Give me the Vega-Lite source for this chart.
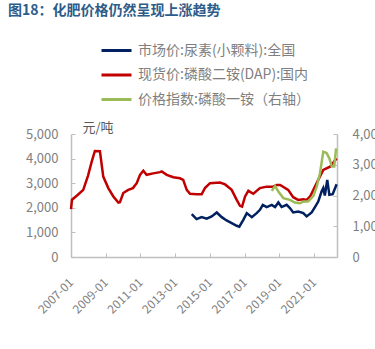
{
  "$schema": "https://vega.github.io/schema/vega-lite/v6.json",
  "width": 266,
  "height": 123,
  "autosize": {"type": "none"},
  "padding": {"left": 71, "top": 134, "right": 38, "bottom": 92},
  "background": "white",
  "title": {"text": "图18：化肥价格仍然呈现上涨趋势", "anchor": "start", "frame": "group", "fontSize": 14, "fontWeight": "bold", "color": "#2E5C8A", "font": "Noto Sans CJK SC", "dx": -63, "dy": -16, "offset": 0},
  "config": {"view": {"stroke": null}, "font": "Noto Sans CJK SC"},
  "data": {"values": [
    {"date": "2007-01-01", "series": "现货价:磷酸二铵(DAP):国内", "value": 1950},
    {"date": "2007-01-22", "series": "现货价:磷酸二铵(DAP):国内", "value": 2330},
    {"date": "2007-05-08", "series": "现货价:磷酸二铵(DAP):国内", "value": 2500},
    {"date": "2007-09-16", "series": "现货价:磷酸二铵(DAP):国内", "value": 2730},
    {"date": "2007-12-24", "series": "现货价:磷酸二铵(DAP):国内", "value": 3300},
    {"date": "2008-03-15", "series": "现货价:磷酸二铵(DAP):国内", "value": 3900},
    {"date": "2008-05-18", "series": "现货价:磷酸二铵(DAP):国内", "value": 4310},
    {"date": "2008-09-01", "series": "现货价:磷酸二铵(DAP):国内", "value": 4300},
    {"date": "2008-11-10", "series": "现货价:磷酸二铵(DAP):国内", "value": 3270},
    {"date": "2009-02-24", "series": "现货价:磷酸二铵(DAP):国内", "value": 2800},
    {"date": "2009-06-10", "series": "现货价:磷酸二铵(DAP):国内", "value": 2460},
    {"date": "2009-09-24", "series": "现货价:磷酸二铵(DAP):国内", "value": 2215},
    {"date": "2009-10-27", "series": "现货价:磷酸二铵(DAP):国内", "value": 2230},
    {"date": "2010-01-05", "series": "现货价:磷酸二铵(DAP):国内", "value": 2600},
    {"date": "2010-04-20", "series": "现货价:磷酸二铵(DAP):国内", "value": 2730},
    {"date": "2010-07-27", "series": "现货价:磷酸二铵(DAP):国内", "value": 2800},
    {"date": "2010-10-15", "series": "现货价:磷酸二铵(DAP):国内", "value": 3000},
    {"date": "2010-12-24", "series": "现货价:磷酸二铵(DAP):国内", "value": 3340},
    {"date": "2011-03-03", "series": "现货价:磷酸二铵(DAP):国内", "value": 3510},
    {"date": "2011-05-12", "series": "现货价:磷酸二铵(DAP):国内", "value": 3340},
    {"date": "2011-09-27", "series": "现货价:磷酸二铵(DAP):国内", "value": 3400},
    {"date": "2012-02-17", "series": "现货价:磷酸二铵(DAP):国内", "value": 3450},
    {"date": "2012-03-25", "series": "现货价:磷酸二铵(DAP):国内", "value": 3480},
    {"date": "2012-07-08", "series": "现货价:磷酸二铵(DAP):国内", "value": 3340},
    {"date": "2012-11-24", "series": "现货价:磷酸二铵(DAP):国内", "value": 3240},
    {"date": "2013-04-12", "series": "现货价:磷酸二铵(DAP):国内", "value": 3200},
    {"date": "2013-06-20", "series": "现货价:磷酸二铵(DAP):国内", "value": 3135},
    {"date": "2013-09-02", "series": "现货价:磷酸二铵(DAP):国内", "value": 2730},
    {"date": "2013-11-10", "series": "现货价:磷酸二铵(DAP):国内", "value": 2570},
    {"date": "2014-03-28", "series": "现货价:磷酸二铵(DAP):国内", "value": 2550},
    {"date": "2014-07-13", "series": "现货价:磷酸二铵(DAP):国内", "value": 2550},
    {"date": "2014-09-20", "series": "现货价:磷酸二铵(DAP):国内", "value": 2800},
    {"date": "2015-01-05", "series": "现货价:磷酸二铵(DAP):国内", "value": 3000},
    {"date": "2015-08-04", "series": "现货价:磷酸二铵(DAP):国内", "value": 3025},
    {"date": "2015-11-18", "series": "现货价:磷酸二铵(DAP):国内", "value": 2950},
    {"date": "2016-04-05", "series": "现货价:磷酸二铵(DAP):国内", "value": 2730},
    {"date": "2016-07-20", "series": "现货价:磷酸二铵(DAP):国内", "value": 2320},
    {"date": "2016-09-27", "series": "现货价:磷酸二铵(DAP):国内", "value": 2080},
    {"date": "2016-11-10", "series": "现货价:磷酸二铵(DAP):国内", "value": 2050},
    {"date": "2017-01-12", "series": "现货价:磷酸二铵(DAP):国内", "value": 2460},
    {"date": "2017-03-22", "series": "现货价:磷酸二铵(DAP):国内", "value": 2690},
    {"date": "2017-07-05", "series": "现货价:磷酸二铵(DAP):国内", "value": 2570},
    {"date": "2017-11-21", "series": "现货价:磷酸二铵(DAP):国内", "value": 2800},
    {"date": "2018-04-12", "series": "现货价:磷酸二铵(DAP):国内", "value": 2860},
    {"date": "2018-08-22", "series": "现货价:磷酸二铵(DAP):国内", "value": 2860},
    {"date": "2018-11-10", "series": "现货价:磷酸二铵(DAP):国内", "value": 2930},
    {"date": "2019-01-20", "series": "现货价:磷酸二铵(DAP):国内", "value": 2930},
    {"date": "2019-07-08", "series": "现货价:磷酸二铵(DAP):国内", "value": 2730},
    {"date": "2019-10-22", "series": "现货价:磷酸二铵(DAP):国内", "value": 2430},
    {"date": "2020-02-06", "series": "现货价:磷酸二铵(DAP):国内", "value": 2320},
    {"date": "2020-05-22", "series": "现货价:磷酸二铵(DAP):国内", "value": 2350},
    {"date": "2020-07-31", "series": "现货价:磷酸二铵(DAP):国内", "value": 2320},
    {"date": "2020-10-12", "series": "现货价:磷酸二铵(DAP):国内", "value": 2460},
    {"date": "2021-01-22", "series": "现货价:磷酸二铵(DAP):国内", "value": 2860},
    {"date": "2021-04-01", "series": "现货价:磷酸二铵(DAP):国内", "value": 3135},
    {"date": "2021-07-16", "series": "现货价:磷酸二铵(DAP):国内", "value": 3540},
    {"date": "2021-12-06", "series": "现货价:磷酸二铵(DAP):国内", "value": 3670},
    {"date": "2022-04-23", "series": "现货价:磷酸二铵(DAP):国内", "value": 4010},
    {"date": "2013-12-16", "series": "市场价:尿素(小颗料):全国", "value": 1745},
    {"date": "2014-03-28", "series": "市场价:尿素(小颗料):全国", "value": 1540},
    {"date": "2014-07-13", "series": "市场价:尿素(小颗料):全国", "value": 1620},
    {"date": "2014-10-27", "series": "市场价:尿素(小颗料):全国", "value": 1560},
    {"date": "2015-02-10", "series": "市场价:尿素(小颗料):全国", "value": 1650},
    {"date": "2015-05-27", "series": "市场价:尿素(小颗料):全国", "value": 1810},
    {"date": "2015-09-09", "series": "市场价:尿素(小颗料):全国", "value": 1620},
    {"date": "2015-12-20", "series": "市场价:尿素(小颗料):全国", "value": 1485},
    {"date": "2016-04-05", "series": "市场价:尿素(小颗料):全国", "value": 1380},
    {"date": "2016-07-20", "series": "市场价:尿素(小颗料):全国", "value": 1270},
    {"date": "2016-09-13", "series": "市场价:尿素(小颗料):全国", "value": 1230},
    {"date": "2016-12-06", "series": "市场价:尿素(小颗料):全国", "value": 1510},
    {"date": "2017-02-17", "series": "市场价:尿素(小颗料):全国", "value": 1785},
    {"date": "2017-06-03", "series": "市场价:尿素(小颗料):全国", "value": 1620},
    {"date": "2017-09-13", "series": "市场价:尿素(小颗料):全国", "value": 1785},
    {"date": "2017-11-21", "series": "市场价:尿素(小颗料):全国", "value": 1920},
    {"date": "2018-01-20", "series": "市场价:尿素(小颗料):全国", "value": 2120},
    {"date": "2018-04-12", "series": "市场价:尿素(小颗料):全国", "value": 2030},
    {"date": "2018-07-27", "series": "市场价:尿素(小颗料):全国", "value": 2120},
    {"date": "2018-10-05", "series": "市场价:尿素(小颗料):全国", "value": 2030},
    {"date": "2018-12-14", "series": "市场价:尿素(小颗料):全国", "value": 2215},
    {"date": "2019-02-20", "series": "市场价:尿素(小颗料):全国", "value": 2030},
    {"date": "2019-06-06", "series": "市场价:尿素(小颗料):全国", "value": 2120},
    {"date": "2019-08-14", "series": "市场价:尿素(小颗料):全国", "value": 1990},
    {"date": "2019-10-22", "series": "市场价:尿素(小颗料):全国", "value": 1810},
    {"date": "2020-02-06", "series": "市场价:尿素(小颗料):全国", "value": 1850},
    {"date": "2020-05-22", "series": "市场价:尿素(小颗料):全国", "value": 1785},
    {"date": "2020-07-31", "series": "市场价:尿素(小颗料):全国", "value": 1650},
    {"date": "2020-11-14", "series": "市场价:尿素(小颗料):全国", "value": 1810},
    {"date": "2021-01-22", "series": "市场价:尿素(小颗料):全国", "value": 2030},
    {"date": "2021-04-01", "series": "市场价:尿素(小颗料):全国", "value": 2255},
    {"date": "2021-06-10", "series": "市场价:尿素(小颗料):全国", "value": 2660},
    {"date": "2021-07-16", "series": "市场价:尿素(小颗料):全国", "value": 2800},
    {"date": "2021-08-18", "series": "市场价:尿素(小颗料):全国", "value": 2500},
    {"date": "2021-10-08", "series": "市场价:尿素(小颗料):全国", "value": 3135},
    {"date": "2021-11-21", "series": "市场价:尿素(小颗料):全国", "value": 2525},
    {"date": "2022-01-30", "series": "市场价:尿素(小颗料):全国", "value": 2550},
    {"date": "2022-04-23", "series": "市场价:尿素(小颗料):全国", "value": 2960},
    {"date": "2018-07-27", "series": "价格指数:磷酸一铵（右轴）", "value": 2150},
    {"date": "2018-10-05", "series": "价格指数:磷酸一铵（右轴）", "value": 2310},
    {"date": "2018-12-14", "series": "价格指数:磷酸一铵（右轴）", "value": 2130},
    {"date": "2019-03-28", "series": "价格指数:磷酸一铵（右轴）", "value": 1915},
    {"date": "2019-08-14", "series": "价格指数:磷酸一铵（右轴）", "value": 1860},
    {"date": "2019-11-27", "series": "价格指数:磷酸一铵（右轴）", "value": 1770},
    {"date": "2020-03-14", "series": "价格指数:磷酸一铵（右轴）", "value": 1750},
    {"date": "2020-05-22", "series": "价格指数:磷酸一铵（右轴）", "value": 1800},
    {"date": "2020-09-06", "series": "价格指数:磷酸一铵（右轴）", "value": 1815},
    {"date": "2020-12-20", "series": "价格指数:磷酸一铵（右轴）", "value": 1990},
    {"date": "2021-02-28", "series": "价格指数:磷酸一铵（右轴）", "value": 2290},
    {"date": "2021-05-08", "series": "价格指数:磷酸一铵（右轴）", "value": 2725},
    {"date": "2021-07-16", "series": "价格指数:磷酸一铵（右轴）", "value": 3425},
    {"date": "2021-09-24", "series": "价格指数:磷酸一铵（右轴）", "value": 3380},
    {"date": "2021-11-21", "series": "价格指数:磷酸一铵（右轴）", "value": 3210},
    {"date": "2022-01-12", "series": "价格指数:磷酸一铵（右轴）", "value": 2940},
    {"date": "2022-03-03", "series": "价格指数:磷酸一铵（右轴）", "value": 2940},
    {"date": "2022-04-12", "series": "价格指数:磷酸一铵（右轴）", "value": 3535}
  ]},
  "encoding": {
    "x": {"field": "date", "type": "temporal",
      "scale": {"domain": [{"year": 2007, "month": 1, "date": 1}, {"year": 2022, "month": 5, "date": 1}]},
      "axis": {"title": null, "format": "%Y-%m", "labelAngle": -45, "labelAlign": "right", "labelBaseline": "middle",
        "values": [{"year": 2007, "month": 1, "date": 1}, {"year": 2009, "month": 1, "date": 1}, {"year": 2011, "month": 1, "date": 1}, {"year": 2013, "month": 1, "date": 1}, {"year": 2015, "month": 1, "date": 1}, {"year": 2017, "month": 1, "date": 1}, {"year": 2019, "month": 1, "date": 1}, {"year": 2021, "month": 1, "date": 1}],
        "grid": false, "domainColor": "#BFBFBF", "domainWidth": 1.5, "tickColor": "#BFBFBF", "tickSize": -4, "labelPadding": 27, "labelDx": -11,
        "labelColor": "#7F7F7F", "labelFontSize": 12, "labelFont": "Noto Sans CJK SC", "labelFlush": false, "labelOverlap": false}
    },
    "color": {"field": "series", "type": "nominal",
      "scale": {"domain": ["市场价:尿素(小颗料):全国", "现货价:磷酸二铵(DAP):国内", "价格指数:磷酸一铵（右轴）"], "range": ["#002060", "#C00000", "#9BBB59"]},
      "legend": {"title": null, "orient": "none", "legendX": 29, "legendY": -100, "direction": "vertical",
        "symbolType": "stroke", "symbolSize": 900, "symbolStrokeWidth": 3, "rowPadding": 0.5,
        "labelFontSize": 14, "labelColor": "#7F7F7F", "labelFont": "Noto Sans CJK SC", "labelOffset": 5, "labelLimit": 300}
    }
  },
  "layer": [
    {
      "transform": [{"filter": "datum.series !== '价格指数:磷酸一铵（右轴）'"}],
      "mark": {"type": "line", "strokeWidth": 2.5, "interpolate": "linear"},
      "encoding": {
        "y": {"field": "value", "type": "quantitative", "scale": {"domain": [0, 5000], "nice": false},
          "axis": {"title": "元/吨", "titleAngle": 0, "titleAlign": "left", "titleX": 11, "titleY": -3, "titleBaseline": "alphabetic",
            "titleFontSize": 13, "titleFontWeight": "normal", "titleColor": "#595959", "titleFont": "Noto Sans CJK SC",
            "values": [0, 1000, 2000, 3000, 4000, 5000], "format": ",d", "grid": false,
            "domainColor": "#BFBFBF", "domainWidth": 1.5, "tickColor": "#BFBFBF", "tickSize": -4, "labelPadding": 17,
            "labelColor": "#7F7F7F", "labelFontSize": 13, "labelFont": "Noto Sans CJK SC"}
        }
      }
    },
    {
      "transform": [{"filter": "datum.series === '价格指数:磷酸一铵（右轴）'"}],
      "mark": {"type": "line", "strokeWidth": 2.5, "interpolate": "linear"},
      "encoding": {
        "y": {"field": "value", "type": "quantitative", "scale": {"domain": [0, 4000], "nice": false},
          "axis": {"orient": "right", "title": null, "values": [0, 1000, 2000, 3000, 4000], "format": ",d", "grid": false,
            "domainColor": "#BFBFBF", "domainWidth": 1.5, "tickColor": "#BFBFBF", "tickSize": -4, "labelPadding": 19,
            "labelColor": "#7F7F7F", "labelFontSize": 13, "labelFont": "Noto Sans CJK SC"}
        }
      }
    }
  ],
  "resolve": {"scale": {"y": "independent"}}
}
